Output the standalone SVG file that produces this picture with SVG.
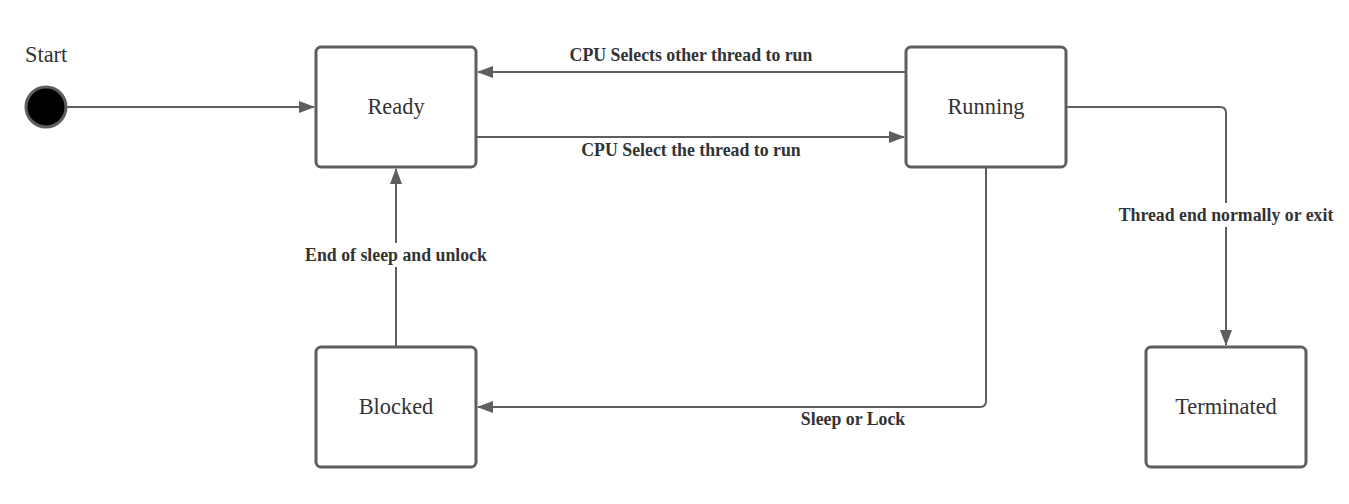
<svg xmlns="http://www.w3.org/2000/svg" width="1349" height="504" viewBox="0 0 1349 504">
<style>
.node rect{fill:#fff;stroke:#5e5e5e;stroke-width:3}
.node text{font-family:"Liberation Serif",serif;font-size:22.4px;fill:#333;text-anchor:middle;dominant-baseline:central}
.edge{fill:none;stroke:#5e5e5e;stroke-width:2}
.lbl{font-family:"Liberation Serif",serif;font-size:17.8px;font-weight:bold;fill:#333;text-anchor:middle;dominant-baseline:central}
.bg{fill:#fff}
</style>
<defs>
<marker id="arr" viewBox="0 0 16 12" refX="15" refY="6" markerWidth="16" markerHeight="12" markerUnits="userSpaceOnUse" orient="auto">
<path d="M0,0 L16,6 L0,12 Z" fill="#5e5e5e"/>
</marker>
</defs>
<rect width="1349" height="504" fill="#fff"/>
<g id="connectors">
<path class="edge" d="M67,107 H314" marker-end="url(#arr)"/>
<path class="edge" d="M906,72 H478" marker-end="url(#arr)"/>
<path class="edge" d="M476,137 H904" marker-end="url(#arr)"/>
<path class="edge" d="M1066,107 H1220 Q1226,107 1226,113 V345" marker-end="url(#arr)"/>
<path class="edge" d="M986,167 V401 Q986,407 980,407 H478" marker-end="url(#arr)"/>
<path class="edge" d="M396,347 V169" marker-end="url(#arr)"/>
<rect class="bg" x="1114" y="203" width="224" height="24"/>
<rect class="bg" x="300" y="243" width="192" height="24"/>
<text class="lbl" x="691" y="55">CPU Selects other thread to run</text>
<text class="lbl" x="691" y="150">CPU Select the thread to run</text>
<text class="lbl" x="1226" y="215">Thread end normally or exit</text>
<text class="lbl" x="853" y="419">Sleep or Lock</text>
<text class="lbl" x="396" y="255">End of sleep and unlock</text>
</g>
<g id="start">
<circle cx="46" cy="107" r="20" fill="#000" stroke="#5e5e5e" stroke-width="3"/>
<text x="25" y="54" style="font-family:'Liberation Serif',serif;font-size:22.4px;fill:#333;dominant-baseline:central">Start</text>
</g>
<g id="ready" class="node"><rect x="316" y="47" width="160" height="120" rx="5"/><text x="396" y="106">Ready</text></g>
<g id="running" class="node"><rect x="906" y="47" width="160" height="120" rx="5"/><text x="986" y="106">Running</text></g>
<g id="blocked" class="node"><rect x="316" y="347" width="160" height="120" rx="5"/><text x="396" y="406">Blocked</text></g>
<g id="terminated" class="node"><rect x="1146" y="347" width="160" height="120" rx="5"/><text x="1226" y="406">Terminated</text></g>
</svg>
